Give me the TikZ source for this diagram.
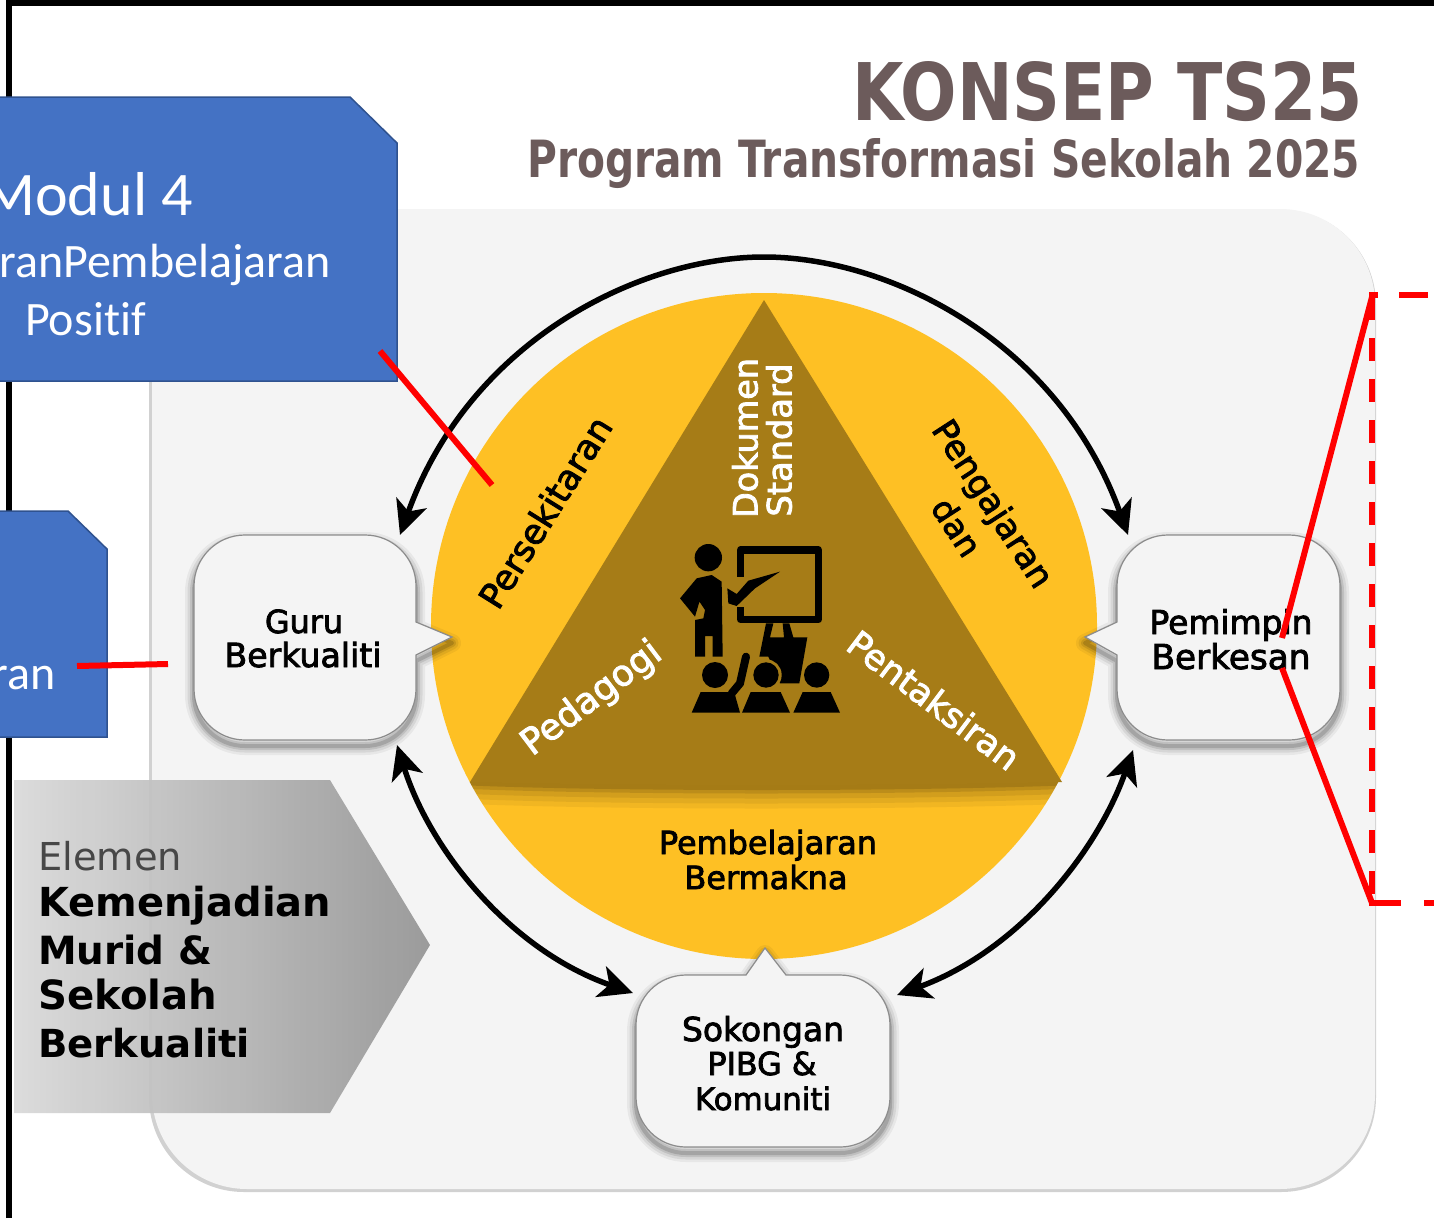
\documentclass[tikz,border=0pt]{standalone}
\usepackage{fontspec}
\usepackage{graphicx}
\setmainfont{DejaVu Sans}
\newfontfamily\blueface[Ligatures=NoCommon]{Carlito}
\newfontfamily\labface[FakeBold=2.5]{DejaVu Sans}
\newfontfamily\headface{DejaVu Sans Bold}
\usetikzlibrary{arrows.meta,calc}
\definecolor{blueb}{HTML}{4472C4}
\definecolor{bluee}{HTML}{2F528F}
\definecolor{gold}{HTML}{FEC024}
\definecolor{olive}{HTML}{A67C17}
\definecolor{panel}{HTML}{F4F4F4}
\definecolor{titlec}{HTML}{6C5B5B}
\newcommand{\tw}[2]{\resizebox{#1pt}{!}{#2}}
\newcommand{\twh}[3]{\resizebox{#1pt}{#2pt}{#3}}
\tikzset{
  bluebox/.style={fill=blueb,draw=bluee,line width=1.5pt},
  bluetxt/.style={text=white,font=\blueface\fontsize{48}{48}\selectfont,inner sep=0pt,anchor=base east},
  lab/.style={inner sep=0pt,anchor=base,text=black,font=\labface\fontsize{30}{30}\selectfont},
  wlab/.style={lab,text=white},
  ttl/.style={inner sep=0pt,anchor=base west,text=titlec,font=\headface\fontsize{40}{40}\selectfont},
  bubble/.style={fill=panel,draw=black!45,line width=1.2pt},
  cycarrow/.style={draw=black,line width=5.5pt,-{Stealth[length=34pt,width=32pt,inset=9pt]}},
  cycarrows/.style={draw=black,line width=5.5pt,{Stealth[length=34pt,width=32pt,inset=9pt]}-{Stealth[length=34pt,width=32pt,inset=9pt]}},
  redline/.style={draw=red,line width=6pt},
  icon/.style={fill=black,draw=none}
}
\newcommand{\softshadow}[1]{%
  \foreach \wd/\op in {18/.05,13/.07,8/.10,4/.14}{%
    \draw[black,opacity=\op,line width=\wd pt,line join=round,transform canvas={yshift=-6pt}] #1;}}
\newcommand{\guruP}{(245,535) -- (365,535) arc[start angle=-90,end angle=0,radius=51] -- (416,622) -- (452,637) -- (416,655) -- (416,689) arc[start angle=0,end angle=90,radius=51] -- (245,740) arc[start angle=90,end angle=180,radius=51] -- (194,586) arc[start angle=180,end angle=270,radius=51] -- cycle}
\newcommand{\pemP}{(1168,535) -- (1289,535) arc[start angle=-90,end angle=0,radius=51] -- (1340,689) arc[start angle=0,end angle=90,radius=51] -- (1168,740) arc[start angle=90,end angle=180,radius=51] -- (1117,655) -- (1085,637) -- (1117,622) -- (1117,586) arc[start angle=180,end angle=270,radius=51] -- cycle}
\newcommand{\sokP}{(686,975) -- (746,975) -- (765,948) -- (786,975) -- (840,975) arc[start angle=-90,end angle=0,radius=50] -- (890,1097) arc[start angle=0,end angle=90,radius=50] -- (686,1147) arc[start angle=90,end angle=180,radius=50] -- (636,1025) arc[start angle=180,end angle=270,radius=50] -- cycle}
\begin{document}
\begin{tikzpicture}[x=1pt,y=-1pt]
\useasboundingbox (0,0) rectangle (1434,1218);
\clip (0,0) rectangle (1434,1218);
\fill[white] (0,0) rectangle (1434,1218);
% outer frame
\draw[black,line width=6pt] (9,1218) -- (9,3) -- (1434,3);
% panel
\fill[black!18,rounded corners=95pt] (149,210) rectangle (1376,1192);
\fill[panel,rounded corners=95pt] (152,209) rectangle (1375,1189);
% gold disc and triangle
\node[circle,fill=gold,minimum size=666pt,inner sep=0pt] (disc) at (764,626) {};
\begin{scope}
  \clip (764,626) circle[radius=333];
  \clip (430,782) rectangle (1100,830);
  \foreach \wd/\op in {44/.05,34/.06,24/.07,14/.10,7/.12}{
    \draw[black,opacity=\op,line width=\wd pt] (470,782) .. controls (620,788) and (900,788) .. (1062,782);}
\end{scope}
\fill[olive] (764,300) -- (1062,782) .. controls (900,786) and (620,786) .. (470,782) -- cycle;
% icon
\begin{scope}[shift={(640,520)},scale=1/3]
  \fill[icon] (205,113) circle[radius=41];
  \fill[icon] (165,410) -- (165,300) -- (190,295) -- (195,270) -- (165,225) -- (190,205) -- (165,290) -- (120,235) -- (170,175) -- (215,165) -- (245,185) -- (248,410) -- (218,410) -- (218,348) -- (195,348) -- (195,410) -- cycle;
  \fill[icon] (262,205) -- (290,222) -- (325,182) -- (420,155) -- (345,205) -- (290,258) -- (265,250) -- cycle;
  \draw[black,line width=7.5pt,line join=round] (302,170) -- (302,90) -- (535,90) -- (535,298) -- (302,298) -- (302,262);
  \fill[icon] (378,310) -- (400,310) -- (390,352) -- (432,352) -- (428,310) -- (448,310) -- (460,352) -- (502,352) -- (478,490) -- (420,490) -- (385,410) -- (358,410) -- cycle;
  \fill[icon] (225,465) circle[radius=39];
  \draw[olive,line width=4pt] (378,465) circle[radius=41];
  \fill[icon] (378,465) circle[radius=38];
  \fill[icon] (530,465) circle[radius=38];
  \fill[icon] (155,578) -- (182,516) -- (265,516) -- (285,525) -- (300,578) -- cycle;
  \draw[black,line width=8pt,line cap=round] (275,520) -- (300,490) -- (318,410);
  \fill[icon] (306,578) -- (332,516) -- (422,516) -- (450,578) -- cycle;
  \fill[icon] (460,578) -- (488,516) -- (572,516) -- (600,578) -- cycle;
\end{scope}
% coordinates for connectors
\coordinate (guruTop) at (400,535);
\coordinate (pemTop) at (1128,535);
\coordinate (guruBot) at (397,745);
\coordinate (sokLeft) at (633,993);
\coordinate (pemBot) at (1133,750);
\coordinate (sokRight) at (897,995);
\draw[cycarrow] (764,257) .. controls (640,257) and (470,340) .. (guruTop);
\draw[cycarrow] (764,257) .. controls (888,257) and (1058,340) .. (pemTop);
\draw[cycarrows] (guruBot) .. controls (430,850) and (510,950) .. (sokLeft);
\draw[cycarrows] (pemBot) .. controls (1098,850) and (1020,950) .. (sokRight);
% bubbles
\softshadow{\guruP}
\draw[bubble] \guruP;
\softshadow{\pemP}
\draw[bubble] \pemP;
\softshadow{\sokP}
\draw[bubble] \sokP;
% bubble texts
\node[lab] (guruA) at (304,633) {\tw{78}{Guru}};
\node[lab] (guruB) at (303,667) {\tw{157}{Berkualiti}};
\node[lab] (pemA) at (1231,634) {\tw{163}{Pemimpin}};
\node[lab] (pemB) at (1231,669) {\tw{159}{Berkesan}};
\node[lab] (sokA) at (763,1041) {\tw{162}{Sokongan}};
\node[lab] (sokB) at (762,1075) {\tw{109}{PIBG \&}};
\node[lab] (sokC) at (763,1110) {\tw{136}{Komuniti}};
\node[lab] (bmA) at (768,854) {\tw{218}{Pembelajaran}};
\node[lab] (bmB) at (766,889) {\tw{163}{Bermakna}};
% rotated disc labels
\node[lab,anchor=center,rotate=58] (pers) at (545,512) {\tw{218}{Persekitaran}};
\node[lab,anchor=center,rotate=-57] (peng) at (991,505) {\tw{192}{Pengajaran}};
\node[lab,anchor=center,rotate=-57] (dan) at (957,527) {\tw{62}{dan}};
\node[wlab,anchor=center,rotate=90] (dokA) at (745,438) {\tw{160}{Dokumen}};
\node[wlab,anchor=center,rotate=90] (dokB) at (779,440) {\tw{153}{Standard}};
\node[wlab,anchor=center,rotate=37] (ped) at (592,699) {\tw{165}{Pedagogi}};
\node[wlab,anchor=center,rotate=-37] (pent) at (934,700) {\tw{205}{Pentaksiran}};
% title
\node[ttl] (titleA) at (852,120) {\twh{511}{59}{KONSEP TS25}};
\node[ttl] (titleB) at (527,177) {\twh{833}{39}{Program Transformasi Sekolah 2025}};
% pentagon
\path[left color=black!15,right color=black!42,opacity=.92] (14,780) -- (330,780) -- (430,945) -- (330,1113) -- (14,1113) -- cycle;
\node[lab,anchor=base west,text=black!72,font=\fontsize{40}{40}\selectfont] (elA) at (38,870) {\tw{144}{Elemen}};
\node[lab,anchor=base west,font=\headface\fontsize{40}{40}\selectfont] (elB) at (38,916) {\tw{293}{Kemenjadian}};
\node[lab,anchor=base west,font=\headface\fontsize{40}{40}\selectfont] (elC) at (38,964) {\tw{174}{Murid \&}};
\node[lab,anchor=base west,font=\headface\fontsize{40}{40}\selectfont] (elD) at (38,1009) {\tw{179}{Sekolah}};
\node[lab,anchor=base west,font=\headface\fontsize{40}{40}\selectfont] (elE) at (38,1057) {\tw{212}{Berkualiti}};
% blue boxes
\draw[bluebox] (-5,97) -- (350,97) -- (397,143) -- (397,381) -- (-5,381) -- cycle;
\draw[bluebox] (-5,511) -- (68,511) -- (107,549) -- (107,737) -- (-5,737) -- cycle;
\node[bluetxt,font=\blueface\fontsize{62}{62}\selectfont] (modul) at (193,215) {Modul 4};
\node[bluetxt] (mod2) at (331,277) {ranPembelajaran};
\node[bluetxt] (mod3) at (146,335) {Positif};
\node[bluetxt] (ran) at (56,689) {ran};
% red elements
\coordinate (rA) at (380,351); \coordinate (rB) at (492,485);
\coordinate (rC) at (77,666); \coordinate (rD) at (168,664);
\coordinate (rE) at (1282,638); \coordinate (rF) at (1372,297);
\coordinate (rG) at (1282,668); \coordinate (rH) at (1372,903);
\draw[redline] (rA) -- (rB);
\draw[redline] (rC) -- (rD);
\draw[redline] (rE) -- (rF);
\draw[redline] (rG) -- (rH);
\draw[redline,dash pattern=on 23pt off 18pt] (1372,297) -- (1372,903);
\draw[redline] (1369,295) -- (1378,295);
\draw[redline] (1399,295) -- (1428,295);
\draw[redline] (1369,903) -- (1401,903);
\draw[redline] (1424,903) -- (1434,903);
\end{tikzpicture}
\end{document}
